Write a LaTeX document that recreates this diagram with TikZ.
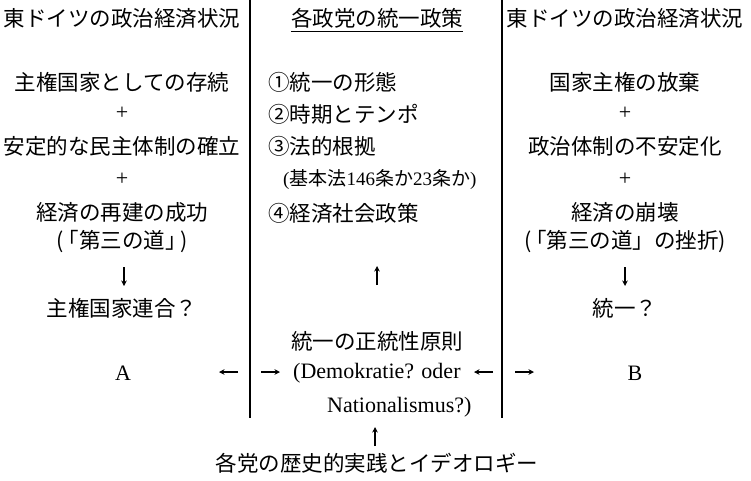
\documentclass[tikz,border=0pt]{standalone}
\usepackage{fontspec}
\setmainfont{Liberation Serif}
\newfontfamily\jp{Noto Sans CJK JP}
\usetikzlibrary{arrows.meta}
\begin{document}
\begin{tikzpicture}[x=1pt,y=-1pt,
  txt/.style={font=\jp\fontsize{21.5}{24}\selectfont, inner sep=0pt},
  small/.style={font=\jp\fontsize{19}{22}\selectfont, inner sep=0pt},
  lat/.style={font=\fontsize{22}{24}\selectfont, inner sep=0pt},
  sep/.style={line width=1.3pt},
  arr/.style={line width=1.3pt, -{Stealth[length=5.5pt,width=5.5pt]}}]
\useasboundingbox (0,0) rectangle (751,480);
% left column
\node[txt] (l0) at (122,18) {東ドイツの政治経済状況};
\node[lat] (lp1) at (122,113) {+};
\node[txt] (l1) at (122,82) {主権国家としての存続};
\node[txt] (l2) at (122,146) {安定的な民主体制の確立};
\node[lat] (lp2) at (122,179) {+};
\node[txt] (l3) at (122,212) {経済の再建の成功};
\node[txt] (l3b) at (122,242) {(\kern-0.3em「第三の道」\kern-0.3em)};
\node[txt] (l4) at (122,308) {主権国家連合？};
\node[lat] (A) at (123,373) {A};
% middle column
\node[txt] (m0) at (377,18) {各政党の統一政策};
\draw[line width=0.8pt] ([yshift=-3.5pt]m0.south west) -- ([yshift=-3.5pt]m0.south east);
\node[txt, anchor=west] (m1) at (268,82) {①統一の形態};
\node[txt, anchor=west] (m2) at (268,114) {②時期とテンポ};
\node[txt, anchor=west] (m3) at (268,146) {③法的根拠};
\node[small, anchor=west] (m3b) at (283,180) {{\rmfamily(}基本法{\rmfamily 146}条か{\rmfamily 23}条か{\rmfamily)}};
\node[txt, anchor=west] (m4) at (268,213) {④経済社会政策};
\node[txt] (m5) at (377,341) {統一の正統性原則};
\node[lat, anchor=west] (m6) at (293,373) {(Demokratie? oder};
\node[lat, anchor=west] (m7) at (327,407) {Nationalismus?)};
\node[txt] (m8) at (377,463) {各党の歴史的実践とイデオロギー};
% right column
\node[txt] (r0) at (625,18) {東ドイツの政治経済状況};
\node[txt] (r1) at (625,82) {国家主権の放棄};
\node[lat] (rp1) at (625,113) {+};
\node[txt] (r2) at (625,146) {政治体制の不安定化};
\node[lat] (rp2) at (625,179) {+};
\node[txt] (r3) at (625,212) {経済の崩壊};
\node[txt] (r3b) at (625,242) {(\kern-0.3em「第三の道」の挫折)};
\node[txt] (r4) at (625,308) {統一？};
\node[lat] (B) at (635,373) {B};
% separators
\coordinate (s1t) at (250,0); \coordinate (s1b) at (250,418);
\coordinate (s2t) at (502,0); \coordinate (s2b) at (502,418);
\draw[sep] (s1t) -- (s1b);
\draw[sep] (s2t) -- (s2b);
% vertical arrows
\coordinate (la1) at (124,267); \coordinate (la2) at (124,286);
\draw[arr] (la1) -- (la2);
\coordinate (ra1) at (625,267); \coordinate (ra2) at (625,286);
\draw[arr] (ra1) -- (ra2);
\coordinate (ma1) at (377,285); \coordinate (ma2) at (377,266);
\draw[arr] (ma1) -- (ma2);
\coordinate (ba1) at (375,446); \coordinate (ba2) at (375,427);
\draw[arr] (ba1) -- (ba2);
% horizontal arrows
\coordinate (h1a) at (238,372); \coordinate (h1b) at (219,372);
\draw[arr] (h1a) -- (h1b);
\coordinate (h2a) at (261,372); \coordinate (h2b) at (280,372);
\draw[arr] (h2a) -- (h2b);
\coordinate (h3a) at (493,372); \coordinate (h3b) at (474,372);
\draw[arr] (h3a) -- (h3b);
\coordinate (h4a) at (515,372); \coordinate (h4b) at (534,372);
\draw[arr] (h4a) -- (h4b);
\end{tikzpicture}
\end{document}
